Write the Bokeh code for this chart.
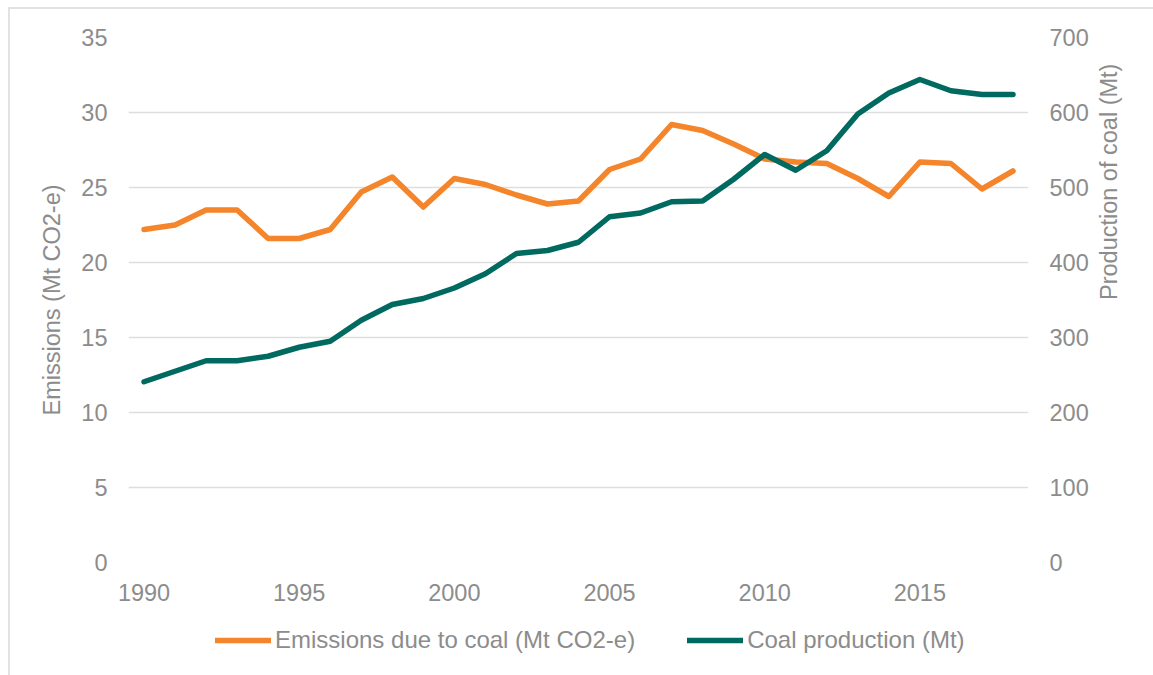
import math
from bokeh.plotting import figure
from bokeh.layouts import column
from bokeh.models import (LinearAxis, Range1d, FixedTicker, Legend, LegendItem)
from bokeh.embed import file_html
from bokeh.resources import INLINE

# Annual series, 1990-2018
years = list(range(1990, 2019))
emissions = [22.2, 22.5, 23.5, 23.5, 21.6, 21.6, 22.2, 24.7, 25.7, 23.7,
             25.6, 25.2, 24.5, 23.9, 24.1, 26.2, 26.9, 29.2, 28.8, 27.9,
             26.9, 26.7, 26.6, 25.6, 24.4, 26.7, 26.6, 24.9, 26.1]
production = [241, 255, 269, 269, 275, 287, 295, 323, 344, 352,
              366, 385, 412, 416, 427, 461, 466, 481, 482, 511,
              544, 523, 549, 598, 626, 644, 629, 624, 624]

x_ticks = [1990, 1995, 2000, 2005, 2010, 2015]
left_ticks = [0, 5, 10, 15, 20, 25, 30, 35]
right_ticks = [0, 100, 200, 300, 400, 500, 600, 700]

emis_label = "Emissions due to coal (Mt CO2-e)"
prod_label = "Coal production (Mt)"

ORANGE = "#F5852A"
TEAL = "#006A60"
GREY_TEXT = "#8c8c8c"
GRID = "#dedede"
FONT = "Liberation Sans"
FS = "23.5px"
LEGEND_FS = "24px"
LINE_W = 5.5

# Main chart: emissions on the left axis, production on the right axis
p = figure(frame_width=900, frame_height=525,
           output_backend="svg", toolbar_location=None,
           x_range=Range1d(1989.5, 2018.5), y_range=Range1d(0, 35),
           min_border_left=118, min_border_right=125,
           min_border_top=28, min_border_bottom=53,
           x_axis_location="below", y_axis_location="left")
p.outline_line_color = None
p.background_fill_color = "white"
p.border_fill_color = "white"

p.extra_y_ranges = {"prod": Range1d(0, 700)}

p.xgrid.visible = False
p.ygrid.grid_line_color = GRID
p.ygrid.grid_line_width = 1.3
p.ygrid.ticker = FixedTicker(ticks=left_ticks)

right_axis = LinearAxis(y_range_name="prod")
p.add_layout(right_axis, "right")

for ax in [p.xaxis[0], p.yaxis[0], right_axis]:
    ax.axis_line_color = None
    ax.major_tick_line_color = None
    ax.minor_tick_line_color = None
    ax.major_tick_out = 0
    ax.major_tick_in = 0
    ax.minor_tick_out = 0
    ax.minor_tick_in = 0
    ax.major_label_text_font = FONT
    ax.major_label_text_font_size = FS
    ax.major_label_text_color = GREY_TEXT
    ax.axis_label_text_font = FONT
    ax.axis_label_text_font_size = FS
    ax.axis_label_text_color = GREY_TEXT
    ax.axis_label_text_font_style = "normal"

p.xaxis[0].ticker = FixedTicker(ticks=x_ticks)
p.xaxis[0].major_label_standoff = 21
p.yaxis[0].ticker = FixedTicker(ticks=left_ticks)
p.yaxis[0].major_label_standoff = 21
p.yaxis[0].axis_label = "Emissions (Mt CO2-e)"
p.yaxis[0].axis_label_standoff = 13
right_axis.ticker = FixedTicker(ticks=right_ticks)
right_axis.major_label_standoff = 21
right_axis.axis_label = "Production of coal (Mt)"
right_axis.axis_label_standoff = 17
right_axis.axis_label_orientation = math.pi / 2

p.line(years, emissions, line_color=ORANGE, line_width=LINE_W,
       line_cap="round", line_join="round")
p.line(years, production, y_range_name="prod", line_color=TEAL,
       line_width=LINE_W, line_cap="round", line_join="round")

# Legend strip underneath the chart (its frame lines up with the chart's frame)
lf = figure(width=1143, height=60, output_backend="svg", toolbar_location=None,
            x_range=Range1d(0, 1), y_range=Range1d(0, 1),
            min_border=0, min_border_left=0, min_border_right=0,
            min_border_top=0, min_border_bottom=0)
lf.axis.visible = False
lf.grid.visible = False
lf.outline_line_color = None
lf.border_fill_color = "white"

nan = float("nan")
k_emis = lf.line(x=[nan, nan], y=[nan, nan], line_color=ORANGE,
                 line_width=LINE_W, line_cap="round", line_join="round")
k_prod = lf.line(x=[nan, nan], y=[nan, nan], line_color=TEAL,
                 line_width=LINE_W, line_cap="round", line_join="round")

legend = Legend(items=[LegendItem(label=emis_label, renderers=[k_emis]),
                       LegendItem(label=prod_label, renderers=[k_prod])],
                orientation="horizontal", location=(87, 21),
                glyph_width=56, glyph_height=24, label_height=24,
                label_standoff=4, spacing=52, padding=0, margin=0,
                label_text_font=FONT, label_text_font_size=LEGEND_FS,
                label_text_color=GREY_TEXT,
                border_line_color=None, background_fill_alpha=0)
lf.add_layout(legend)

page = column(p, lf, spacing=0,
              styles={"margin-left": "8px", "margin-top": "7px",
                      "border-left": "2px solid #e2e2e2",
                      "border-top": "2px solid #e2e2e2"})

open("out.html", "w").write(file_html(page, INLINE))
